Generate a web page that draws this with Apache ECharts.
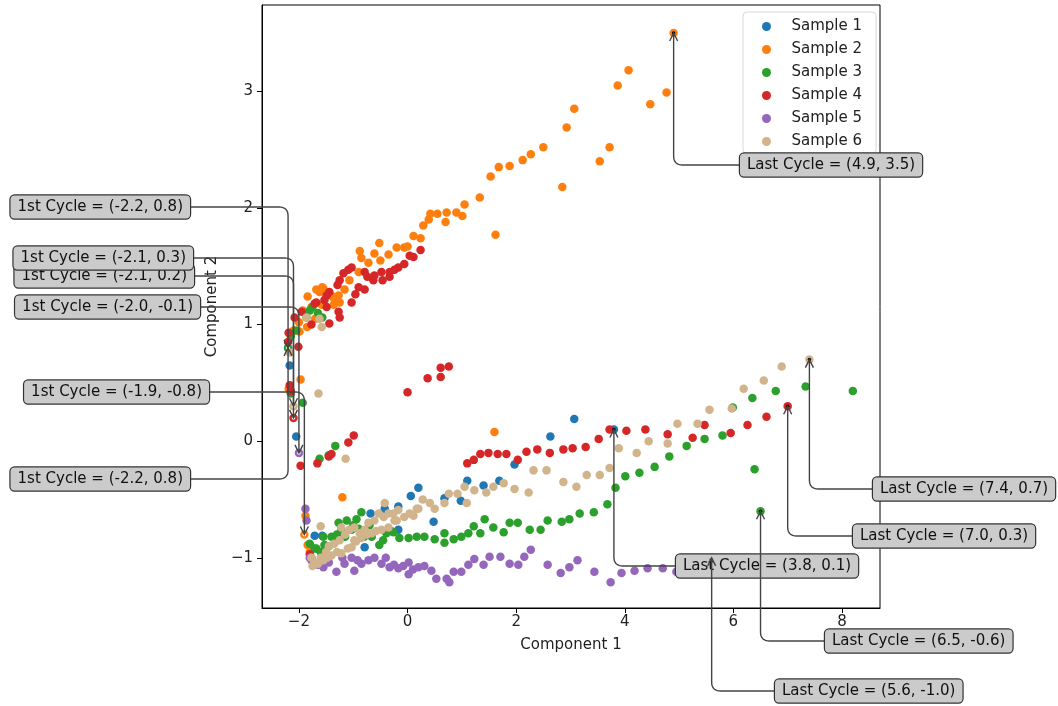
<!DOCTYPE html>
<html>
<head>
<meta charset="utf-8">
<script src="https://cdn.jsdelivr.net/npm/echarts@6/dist/echarts.min.js"></script>
<style>
html,body{margin:0;padding:0;background:#fff;}
#chart{width:1058px;height:706px;}
</style>
</head>
<body>
<div id="chart"></div>
<script>
// ---------------- DATA ----------------
const sampleNames = ['Sample 1', 'Sample 2', 'Sample 3', 'Sample 4', 'Sample 5', 'Sample 6'];
const xTicks = [-2, 0, 2, 4, 6, 8];
const yTicks = [-1, 0, 1, 2, 3];

// first element = 1st cycle, last element = last cycle
const sample1 = [[-2.2,0.8],[-2.17,0.65],[-2.05,0.04],[-1.71,-0.81],[-1.57,-0.81],[-1.3,-0.85],[-0.79,-0.91],
  [-0.68,-0.62],[-0.42,-0.58],[-0.3,-0.77],[-0.17,-0.56],[-0.17,-0.76],[0.06,-0.47],[0.20,-0.40],[0.48,-0.69],
  [0.68,-0.49],[0.98,-0.51],[1.10,-0.34],[1.40,-0.38],[1.69,-0.34],[1.97,-0.20],[2.63,0.04],[3.07,0.19],[3.8,0.1]];

const sample2 = [[-1.9,-0.8],[-1.88,-0.64],[-1.84,-0.89],[-1.80,-0.95],[-1.2,-0.48],[-1.97,0.53],[-2.19,0.45],[1.6,0.08],
  [-2.1,0.95],[-1.99,0.94],[-2.0,1.02],[-1.85,0.98],[-1.7,1.05],[-1.93,1.12],[-1.84,1.24],[-1.77,1.15],[-1.68,1.30],
  [-1.62,1.28],[-1.58,1.17],[-1.57,1.32],[-1.55,1.31],[-1.38,1.24],[-1.36,1.17],[-1.36,1.23],[-1.27,1.25],[-1.25,1.19],
  [-1.16,1.30],[-1.07,1.38],[-0.9,1.45],[-0.88,1.63],[-0.85,1.57],[-0.72,1.53],[-0.61,1.61],[-0.52,1.70],[-0.5,1.55],
  [-0.35,1.60],[-0.2,1.66],[-0.06,1.66],[0.0,1.67],[0.11,1.76],[0.24,1.74],[0.29,1.85],[0.39,1.90],[0.42,1.95],
  [0.55,1.95],[0.70,1.88],[0.72,1.96],[0.90,1.96],[1.01,1.93],[1.05,2.03],[1.33,2.09],[1.53,2.27],[1.62,1.77],
  [1.68,2.35],[1.88,2.36],[2.12,2.41],[2.27,2.46],[2.50,2.52],[2.85,2.18],[2.93,2.69],[3.07,2.85],[3.54,2.40],
  [3.72,2.52],[3.87,3.05],[4.07,3.18],[4.47,2.89],[4.77,2.99],[4.9,3.5]];

const sample3 = [[-2.2,0.8],[-2.15,0.9],[-2.05,0.95],[-1.86,1.06],[-1.80,1.12],[-1.75,1.15],[-1.65,1.1],[-1.57,1.06],
  [-2.15,0.41],[-1.93,0.33],[-1.62,-0.15],[-1.45,-0.12],[-1.33,-0.04],
  [-1.8,-0.88],[-1.77,-1.0],[-1.71,-0.92],[-1.68,-0.92],[-1.6,-0.95],[-1.55,-0.82],[-1.53,-0.89],[-1.45,-0.9],
  [-1.40,-0.82],[-1.3,-0.8],[-1.27,-0.70],[-1.22,-0.76],[-1.15,-0.82],[-1.12,-0.68],[-1.03,-0.76],[-1.0,-0.72],
  [-0.94,-0.67],[-0.90,-0.75],[-0.85,-0.61],[-0.8,-0.82],[-0.7,-0.72],[-0.66,-0.82],[-0.52,-0.89],[-0.45,-0.85],
  [-0.39,-0.79],[-0.26,-0.78],[-0.15,-0.83],[0.02,-0.83],[0.17,-0.82],[0.31,-0.82],[0.50,-0.84],[0.68,-0.79],
  [0.68,-0.87],[0.85,-0.84],[0.99,-0.82],[1.12,-0.79],[1.22,-0.73],[1.34,-0.79],[1.42,-0.67],[1.58,-0.74],
  [1.77,-0.78],[1.88,-0.70],[2.03,-0.70],[2.25,-0.76],[2.45,-0.76],[2.58,-0.68],[2.84,-0.69],[2.98,-0.67],
  [3.17,-0.62],[3.43,-0.61],[3.68,-0.54],[3.83,-0.40],[4.01,-0.30],[4.27,-0.27],[4.55,-0.22],[4.82,-0.13],
  [5.14,-0.04],[5.47,0.02],[5.80,0.05],[5.99,0.29],[6.35,0.37],[6.78,0.43],[7.33,0.47],[8.20,0.43],[6.39,-0.24],
  [6.5,-0.6]];

const sample4 = [[-2.1,0.2],[-2.15,0.43],[-2.17,0.48],[-2.19,0.93],[-2.2,0.85],[-2.08,1.06],[-2.01,0.81],[-1.95,1.11],
  [-1.77,1.0],[-1.71,1.18],[-1.68,1.19],[-1.53,1.21],[-1.49,1.15],[-1.49,1.25],[-1.44,1.28],[-1.44,1.01],[-1.29,1.34],
  [-1.27,1.11],[-1.25,1.06],[-1.25,1.38],[-1.18,1.44],[-1.09,1.47],[-1.03,1.49],[-1.03,1.19],[-0.96,1.26],[-0.90,1.32],
  [-0.79,1.30],[-0.79,1.45],[-0.74,1.41],[-0.63,1.38],[-0.61,1.42],[-0.48,1.45],[-0.46,1.38],[-0.33,1.45],[-0.33,1.41],
  [-0.24,1.47],[-0.17,1.49],[-0.06,1.52],[0.04,1.59],[0.11,1.58],[0.24,1.64],
  [0.0,0.42],[0.37,0.54],[0.61,0.55],[0.61,0.63],[0.76,0.64],
  [-0.99,0.05],[-1.09,-0.01],[-1.40,-0.11],[-1.45,-0.13],[-1.66,-0.19],[-1.97,-0.21],[-1.8,-0.97],
  [1.10,-0.19],[1.22,-0.16],[1.34,-0.11],[1.49,-0.10],[1.66,-0.11],[1.82,-0.11],[2.03,-0.16],[2.19,-0.09],
  [2.39,-0.07],[2.62,-0.10],[2.87,-0.07],[3.04,-0.06],[3.28,-0.05],[3.52,0.02],[3.72,0.10],[4.03,0.09],
  [4.38,0.10],[4.79,0.06],[5.25,0.03],[5.47,0.14],[5.95,0.07],[6.26,0.14],[6.61,0.21],[7.0,0.3]];

const sample5 = [[-2.0,-0.1],[-1.88,-0.58],[-1.86,-0.68],[-1.8,-1.0],[-1.77,-1.02],[-1.65,-1.06],[-1.55,-1.08],
  [-1.45,-1.04],[-1.31,-1.12],[-1.2,-1.0],[-1.16,-1.05],[-1.03,-1.00],[-0.98,-1.11],[-0.92,-1.02],[-0.85,-1.05],
  [-0.72,-1.02],[-0.61,-1.00],[-0.48,-1.05],[-0.4,-1.0],[-0.33,-1.08],[-0.25,-1.06],[-0.17,-1.09],[-0.08,-1.07],
  [0.02,-1.04],[0.02,-1.14],[0.10,-1.10],[0.20,-1.08],[0.31,-1.07],[0.44,-1.11],[0.53,-1.18],[0.72,-1.18],
  [0.77,-1.21],[0.85,-1.12],[0.99,-1.12],[1.12,-1.06],[1.23,-1.01],[1.40,-1.06],[1.51,-0.99],[1.71,-0.99],
  [1.88,-1.05],[2.04,-1.06],[2.15,-0.99],[2.27,-0.93],[2.58,-1.06],[2.82,-1.13],[2.98,-1.08],[3.13,-1.02],
  [3.44,-1.12],[3.74,-1.21],[3.94,-1.13],[4.18,-1.11],[4.42,-1.09],[4.70,-1.09],[4.95,-1.12],[5.2,-1.08],
  [5.4,-1.07],[5.6,-1.0]];

const sample6 = [[-2.1,0.3],[-2.17,0.76],[-1.86,1.06],[-1.58,0.98],[-1.62,1.05],[-1.64,0.41],[-1.14,-0.15],
  [-1.60,-0.73],[-1.77,-1.0],[-1.75,-1.07],[-1.71,-1.04],[-1.65,-1.05],[-1.6,-1.0],[-1.55,-1.02],[-1.5,-0.95],
  [-1.48,-1.0],[-1.45,-0.9],[-1.40,-0.98],[-1.35,-0.88],[-1.3,-0.95],[-1.25,-0.85],[-1.22,-0.96],[-1.15,-0.8],
  [-1.1,-0.92],[-1.03,-0.91],[-0.95,-0.86],[-0.85,-0.83],[-0.75,-0.8],[-0.66,-0.79],[-0.58,-0.77],[-0.48,-0.76],
  [-0.35,-0.74],[-0.24,-0.68],[-0.17,-0.59],[-0.42,-0.53],[-1.22,-0.74],[-1.07,-0.76],[-0.98,-0.74],[-0.98,-0.85],
  [-0.88,-0.79],[-0.79,-0.76],[-0.72,-0.70],[-0.61,-0.68],[-0.53,-0.62],[-0.44,-0.65],[-0.35,-0.62],[-0.26,-0.62],
  [-0.20,-0.68],[-0.06,-0.65],[0.04,-0.62],[0.11,-0.64],[0.17,-0.58],[0.20,-0.58],[0.28,-0.50],[0.41,-0.53],
  [0.50,-0.58],[0.68,-0.53],[0.76,-0.45],[0.92,-0.45],[1.05,-0.39],[1.09,-0.53],[1.23,-0.42],[1.45,-0.44],
  [1.58,-0.39],[1.77,-0.36],[1.97,-0.41],[2.23,-0.44],[2.32,-0.25],[2.56,-0.25],[2.87,-0.35],[3.11,-0.39],
  [3.30,-0.29],[3.54,-0.29],[3.72,-0.23],[3.89,-0.06],[4.22,-0.10],[4.44,0.0],[4.79,-0.02],[4.97,0.15],
  [5.34,0.15],[5.56,0.27],[5.97,0.28],[6.19,0.45],[6.56,0.52],[6.89,0.64],[7.4,0.7]];

const samples = [sample1, sample2, sample3, sample4, sample5, sample6];

// ---------------- STYLE / LAYOUT ----------------
const colors = ['#1f77b4', '#ff7f0e', '#2ca02c', '#d62728', '#9467bd', '#d2b48c'];
const FONT = 'DejaVu Sans';
// annotation box anchors (pixels): first-cycle boxes attach on their right edge, last-cycle on their left edge
const firstBoxLayout = [[190,207],[209,392],[190,479],[194,276],[200,307],[193,258]];
const lastBoxLayout  = [[676,566],[740,165],[825,641],[853,536],[775,691],[873,489]];

const fmtTick = v => (v < 0 ? '\u2212' + Math.abs(v) : String(v));
const fmt1 = v => v.toFixed(1);

const chart = echarts.init(document.getElementById('chart'), null, {renderer: 'canvas'});

const series = samples.map((d, i) => ({
  type: 'scatter', name: sampleNames[i], data: d, symbolSize: 8.5,
  itemStyle: {color: colors[i], opacity: 1}, z: 2
}));
series.push({
  type: 'scatter', name: 'first', data: samples.map(d => d[0]), symbolSize: 3.5,
  itemStyle: {color: '#ffffff', opacity: 1}, z: 3, silent: true
});
series.push({
  type: 'scatter', name: 'last', data: samples.map(d => d[d.length - 1]), symbolSize: 3.5,
  itemStyle: {color: '#000000', opacity: 1}, z: 3, silent: true
});

chart.setOption({
  animation: false,
  textStyle: {fontFamily: FONT},
  grid: {left: 262, top: 5, width: 618, height: 603, show: true, borderColor: '#000', borderWidth: 1, backgroundColor: 'transparent'},
  xAxis: {
    type: 'value', min: -2.68, max: 8.70,
    axisLine: {show: true, onZero: false, lineStyle: {color: '#000', width: 1}},
    axisTick: {show: true, customValues: xTicks, length: 5, lineStyle: {color: '#000'}},
    axisLabel: {customValues: xTicks, formatter: fmtTick, fontSize: 15, color: '#222', margin: 7, fontFamily: FONT},
    splitLine: {show: false},
    name: 'Component 1', nameLocation: 'middle', nameGap: 30,
    nameTextStyle: {fontSize: 15, color: '#222', fontFamily: FONT}
  },
  yAxis: {
    type: 'value', min: -1.43, max: 3.74,
    axisLine: {show: true, onZero: false, lineStyle: {color: '#000', width: 1}},
    axisTick: {show: true, customValues: yTicks, length: 5, lineStyle: {color: '#000'}},
    axisLabel: {customValues: yTicks, formatter: fmtTick, fontSize: 15, color: '#222', margin: 9, fontFamily: FONT},
    splitLine: {show: false},
    name: 'Component 2', nameLocation: 'middle', nameGap: 34,
    nameTextStyle: {fontSize: 15, color: '#222', fontFamily: FONT}
  },
  legend: {
    data: sampleNames, orient: 'vertical', left: 743, top: 12,
    icon: 'circle', itemWidth: 40, itemHeight: 9, itemGap: 6,
    padding: [6, 14, 4, 19],
    backgroundColor: '#ffffff', borderColor: '#d8d8d8', borderWidth: 1, borderRadius: 4,
    textStyle: {fontSize: 15, color: '#222', lineHeight: 17, fontFamily: FONT},
    selectedMode: false
  },
  series: series
});

// ---------------- ANNOTATIONS ----------------
const LINE = '#444';
const R = 9;
const elements = [];
let zc = 0;

function quad(p0, p1, p2, n) {
  const pts = [];
  for (let k = 0; k <= n; k++) {
    const t = k / n, u = 1 - t;
    pts.push([u*u*p0[0] + 2*u*t*p1[0] + t*t*p2[0], u*u*p0[1] + 2*u*t*p1[1] + t*t*p2[1]]);
  }
  return pts;
}

function addAnnotation(label, boxX, boxY, target, side) {
  const tx = target[0], ty = target[1];
  const dir = ty > boxY ? 1 : -1;          // vertical direction toward target
  const hs = side === 'left' ? -1 : 1;      // corner approach side
  const pts = [[boxX, boxY]].concat(
    quad([tx + hs * R, boxY], [tx, boxY], [tx, boxY + dir * R], 8),
    [[tx, ty]]
  );
  elements.push({type: 'polyline', shape: {points: pts}, style: {stroke: LINE, fill: null, lineWidth: 1.4}, z: 100, z2: zc++, silent: true});
  const ay = ty - dir * 8;
  elements.push({type: 'polyline', shape: {points: [[tx - 4, ay], [tx, ty], [tx + 4, ay]]}, style: {stroke: LINE, fill: null, lineWidth: 1.4}, z: 100, z2: zc++, silent: true});
  elements.push({type: 'text', x: boxX, y: boxY, style: {text: label, fill: '#111', font: '15px "' + FONT + '"',
    align: side === 'left' ? 'right' : 'left', verticalAlign: 'middle',
    backgroundColor: '#cbcbcb', borderColor: '#333', borderWidth: 1.2, borderRadius: 4, padding: [4, 7, 4, 7]},
    z: 100, z2: zc++, silent: true});
}

samples.forEach((d, i) => {
  const f = d[0], l = d[d.length - 1];
  const fp = chart.convertToPixel({gridIndex: 0}, f);
  const lp = chart.convertToPixel({gridIndex: 0}, l);
  addAnnotation('1st Cycle = (' + fmt1(f[0]) + ', ' + fmt1(f[1]) + ')', firstBoxLayout[i][0], firstBoxLayout[i][1], fp, 'left');
  addAnnotation('Last Cycle = (' + fmt1(l[0]) + ', ' + fmt1(l[1]) + ')', lastBoxLayout[i][0], lastBoxLayout[i][1], lp, 'right');
});

chart.setOption({graphic: {elements: elements}});
</script>
</body>
</html>
